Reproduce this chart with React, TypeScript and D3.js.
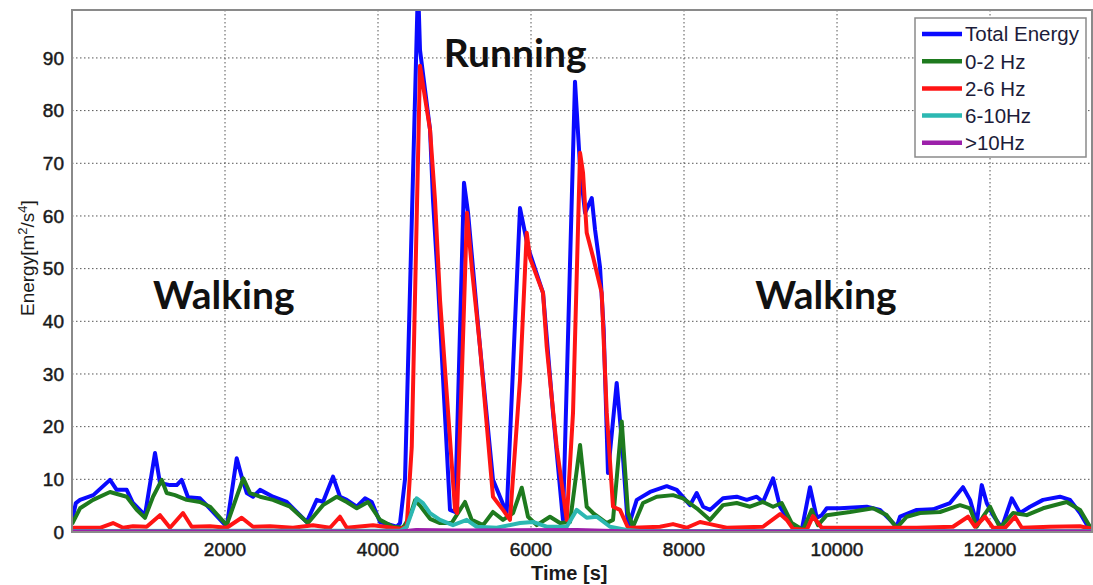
import React from 'react';
import * as d3 from 'd3';

// [time (s), energy]
const totalEnergy: [number, number][] = [
  [0, 2], [50, 5.5], [105, 6.1], [278, 7.0], [497, 9.9], [584, 8.0], [715, 8.0], [797, 5.5], [954, 3.2],
  [1085, 15.0], [1150, 9.3], [1281, 8.9], [1369, 8.9], [1434, 9.9], [1516, 6.6], [1673, 6.4], [1778, 4.8],
  [2022, 1.0], [2153, 14.0], [2218, 10.5], [2284, 7.4], [2366, 6.7], [2458, 8.0], [2627, 6.7], [2807, 5.7],
  [3068, 1.9], [3199, 6.1], [3281, 5.7], [3412, 10.5], [3503, 6.7], [3591, 6.1], [3722, 4.8], [3830, 6.4],
  [3918, 5.7], [4026, 1.9], [4244, 1.0], [4288, 1.7], [4353, 10], [4523, 104], [4549, 91.5], [4680, 76.4],
  [4719, 63], [4784, 47.3], [4941, 4.2], [5007, 3.8], [5124, 66.3], [5177, 60.6], [5333, 35.2], [5503, 9.9],
  [5682, 3.6], [5856, 61.5], [5961, 54], [6157, 45.4], [6288, 22.6], [6418, 2.3], [6575, 85.5], [6641, 69.3],
  [6706, 60.6], [6794, 63.4], [6837, 57.4], [6902, 50.3], [6950, 38.4], [7006, 11.2], [7120, 28.3],
  [7186, 17.5], [7268, 0.8], [7382, 6.1], [7556, 7.6], [7774, 8.7], [7905, 8.0], [8079, 5.1], [8166, 7.4],
  [8249, 4.8], [8340, 4.2], [8510, 6.4], [8689, 6.7], [8820, 6.1], [8950, 6.7], [9033, 5.7], [9164, 10.2],
  [9255, 4.8], [9386, 1.7], [9539, 0.4], [9647, 8.5], [9735, 2.7], [9800, 3.2], [9866, 4.5], [10039, 4.5],
  [10388, 4.8], [10562, 4.2], [10693, 2.3], [10780, 1.0], [10824, 2.9], [11042, 4.2], [11255, 4.3],
  [11477, 5.5], [11647, 8.5], [11739, 6.1], [11826, 1.7], [11892, 8.9], [11957, 5.5], [12039, 3.2],
  [12153, 0.8], [12284, 6.4], [12392, 3.6], [12523, 4.8], [12693, 6.1], [12915, 6.7], [13046, 6.1],
  [13176, 3.6], [13281, 1.0], [13333, 0.6],
];

const band0to2: [number, number][] = [
  [0, 1.5], [105, 4.5], [275, 6.1], [497, 7.6], [715, 6.7], [846, 4.2], [954, 2.7], [1059, 6.7], [1173, 9.9],
  [1238, 7.4], [1346, 7.0], [1499, 6.1], [1673, 5.7], [1804, 4.8], [2022, 1.3], [2153, 6.7], [2239, 10.2],
  [2327, 7.4], [2458, 6.7], [2627, 6.1], [2850, 4.8], [3085, 1.7], [3281, 5.1], [3460, 6.7], [3591, 5.7],
  [3722, 4.5], [3869, 5.7], [4026, 2.3], [4196, 1.0], [4327, 0.8], [4418, 3], [4484, 6.0], [4549, 5.0],
  [4680, 2.5], [4811, 1.7], [4963, 1.7], [5137, 5.7], [5225, 2.3], [5373, 1.3], [5503, 3.8], [5634, 2.3],
  [5765, 3.6], [5879, 8.4], [5961, 2.9], [6075, 1.3], [6248, 2.9], [6379, 1.7], [6510, 1.9], [6641, 16.5],
  [6728, 4.8], [6811, 3.6], [6990, 1.7], [7072, 2.3], [7186, 21], [7268, 3.6], [7333, 1.0], [7464, 5.5],
  [7643, 6.7], [7856, 7.0], [7987, 6.4], [8166, 4.5], [8340, 2.3], [8510, 5.1], [8689, 5.5], [8863, 4.8],
  [9033, 5.7], [9164, 4.8], [9277, 5.5], [9408, 1.7], [9556, 0.4], [9669, 4.2], [9752, 1.3], [9866, 3.2],
  [10170, 3.8], [10471, 4.5], [10650, 3.2], [10780, 0.8], [10911, 2.9], [11085, 3.6], [11346, 3.8],
  [11608, 5.1], [11739, 4.5], [11826, 1.0], [11909, 2.9], [12000, 4.8], [12131, 0.8], [12301, 3.6],
  [12480, 3.2], [12693, 4.5], [13002, 5.7], [13176, 4.2], [13307, 1.0], [13333, 0.8],
];

const band2to6: [number, number][] = [
  [0, 0.8], [366, 0.8], [536, 1.7], [667, 0.8], [797, 1.1], [976, 1.0], [1150, 3.2], [1281, 0.8], [1451, 3.6],
  [1565, 1.0], [1804, 1.1], [2022, 0.8], [2218, 2.7], [2366, 1.0], [2588, 1.1], [2889, 0.8], [3150, 1.3],
  [3373, 0.8], [3503, 2.9], [3591, 0.8], [3935, 1.3], [4288, 0.6], [4375, 1.0], [4441, 16.1], [4549, 88.5],
  [4680, 76.4], [4745, 63], [4811, 44], [5007, 4.2], [5033, 3.6], [5094, 28.9], [5163, 60.6], [5225, 50.3],
  [5333, 35.2], [5503, 6.7], [5634, 4.2], [5725, 2.3], [5856, 28.9], [5944, 56.8], [5987, 52], [6157, 45.4],
  [6205, 35.2], [6336, 16.1], [6467, 2.3], [6549, 22.6], [6641, 72], [6680, 68.2], [6728, 56.8], [6811, 52.2],
  [6924, 45.4], [6990, 22.6], [7072, 4.8], [7163, 4.2], [7268, 0.8], [7333, 0.8], [7686, 1.0], [7856, 1.5],
  [8035, 0.8], [8209, 1.9], [8340, 1.5], [8558, 0.8], [9033, 1.0], [9255, 3.4], [9343, 2.3], [9425, 0.6],
  [9604, 0.4], [9686, 3.0], [9800, 0.8], [10388, 0.8], [11042, 0.8], [11516, 1.0], [11713, 2.9], [11804, 1.0],
  [11935, 2.9], [12039, 0.8], [12196, 0.8], [12327, 2.9], [12415, 0.8], [12784, 1.0], [13176, 1.1], [13333, 0.6],
];

const band6to10: [number, number][] = [
  [0, 0.2], [4300, 0.3], [4375, 1.0], [4506, 6.4], [4588, 5.5], [4680, 3.6], [4811, 2.3], [4980, 1.3],
  [5160, 2.3], [5290, 1.0], [5551, 0.8], [5856, 1.7], [6026, 1.9], [6205, 1.0], [6467, 1.0], [6597, 4.2],
  [6728, 2.7], [6859, 2.9], [7033, 1.0], [7251, 0.4], [7425, 0.2], [13333, 0.2],
];

const bandOver10: [number, number][] = [
  [0, 0.1], [4300, 0.1], [4500, 0.4], [5000, 0.3], [6600, 0.4], [7300, 0.1], [13333, 0.1],
];

const seriesNames = ['Total Energy', '0-2 Hz', '2-6 Hz', '6-10Hz', '>10Hz'];
const seriesColors = ['#0a0aff', '#1e7a1e', '#ff1414', '#2cb8b2', '#9c20aa'];
const seriesData = [totalEnergy, band0to2, band2to6, band6to10, bandOver10];

const xTicks = [2000, 4000, 6000, 8000, 10000, 12000];
const yTicks = [0, 10, 20, 30, 40, 50, 60, 70, 80, 90];

const W = 1093;
const H = 585;
const M = { left: 72, right: 1, top: 10, bottom: 53 };

export default function App() {
  const x = d3.scaleLinear().domain([0, 13333]).range([M.left, W - M.right]);
  const y = d3.scaleLinear().domain([0, 99.1]).range([H - M.bottom, M.top]);
  const line = d3.line<[number, number]>().x(d => x(d[0])).y(d => y(d[1]));

  const font = '"Liberation Sans", Arial, sans-serif';
  const labelFont = 'Lato, "Open Sans", sans-serif';
  const ink = '#1a1a1a';

  return (
    <div>
      <style>{`body{margin:0}`}</style>
      <svg width={W} height={H} style={{ display: 'block', background: '#fff' }}>
        <defs>
          <clipPath id="plot">
            <rect x={M.left} y={M.top} width={W - M.left - M.right} height={H - M.top - M.bottom} />
          </clipPath>
        </defs>

        {/* grid */}
        {yTicks.slice(1).map(v => (
          <line key={'gy' + v} x1={M.left} x2={W - M.right} y1={y(v)} y2={y(v)}
            stroke="#555" strokeWidth={1} strokeDasharray="1.5,2.5" />
        ))}
        {xTicks.map(v => (
          <line key={'gx' + v} x1={x(v)} x2={x(v)} y1={M.top} y2={H - M.bottom}
            stroke="#555" strokeWidth={1} strokeDasharray="1.5,2.5" />
        ))}

        {/* series */}
        <g clipPath="url(#plot)">
          {seriesData.map((d, i) => (
            <path key={seriesNames[i]} d={line(d) || ''} fill="none" stroke={seriesColors[i]}
              strokeWidth={4} strokeLinejoin="round" />
          ))}
        </g>

        {/* frame */}
        <rect x={M.left} y={M.top} width={W - M.left - M.right} height={H - M.top - M.bottom}
          fill="none" stroke="#8a8a8a" strokeWidth={2} />

        {/* tick labels */}
        {yTicks.map(v => (
          <text key={'ty' + v} x={M.left - 8} y={y(v)} dy="0.36em" textAnchor="end"
            fontFamily={font} fontSize={19} fill={ink} stroke={ink} strokeWidth={0.5}>{v}</text>
        ))}
        {xTicks.map(v => (
          <text key={'tx' + v} x={x(v)} y={H - M.bottom + 24} textAnchor="middle"
            fontFamily={font} fontSize={19} fill={ink} stroke={ink} strokeWidth={0.5}>{v}</text>
        ))}

        {/* axis labels */}
        <text x={x(6500)} y={H - 5} textAnchor="middle" fontFamily={font} fontSize={20}
          fontWeight="bold" fill={ink}>Time [s]</text>
        <text transform={`translate(34,${y(52)}) rotate(-90)`} textAnchor="middle"
          fontFamily={font} fontSize={19} fill={ink}>
          Energy[m<tspan dy="-7" fontSize={13}>2</tspan><tspan dy="7">/s</tspan>
          <tspan dy="-7" fontSize={13}>4</tspan><tspan dy="7">]</tspan>
        </text>

        {/* annotations */}
        <text x={x(1060)} y={y(42.3)} fontFamily={labelFont} fontWeight={700} fontSize={39}
          fill="#111">Walking</text>
        <text x={x(4860)} y={y(88.3)} fontFamily={labelFont} fontWeight={700} fontSize={39}
          fill="#111">Running</text>
        <text x={x(8930)} y={y(42.3)} fontFamily={labelFont} fontWeight={700} fontSize={39}
          fill="#111">Walking</text>

        {/* legend */}
        <g>
          <rect x={915} y={18} width={171} height={139} fill="#fff" stroke="#8a8a8a" strokeWidth={1.5} />
          {seriesNames.map((n, i) => (
            <g key={'lg' + n}>
              <line x1={922} x2={962} y1={34 + i * 27.2} y2={34 + i * 27.2}
                stroke={seriesColors[i]} strokeWidth={4.5} />
              <text x={965} y={34 + i * 27.2} dy="0.36em" fontFamily={font} fontSize={20.5}
                fill="#1c1c3a">{n}</text>
            </g>
          ))}
        </g>
      </svg>
    </div>
  );
}
